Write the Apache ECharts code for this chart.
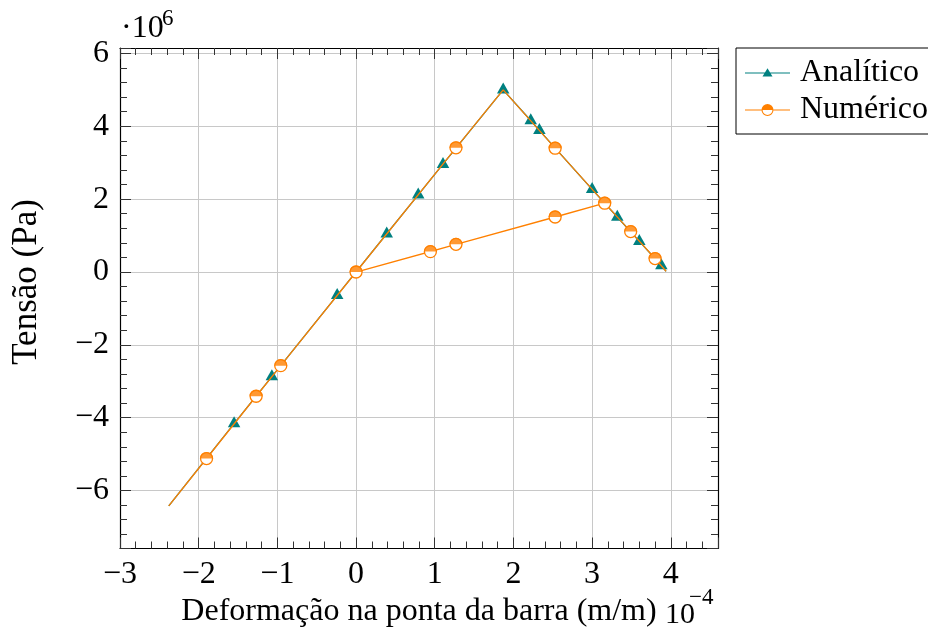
<!DOCTYPE html>
<html><head><meta charset="utf-8">
<script src="https://cdn.jsdelivr.net/npm/echarts@6/dist/echarts.min.js"></script>
<style>html,body{margin:0;padding:0;background:#fff}#c{width:928px;height:627px}</style>
</head><body><div id="c"></div>
<script>
// ---- data (strain in 1e-4 m/m, stress in 1e6 Pa) ----
const anaX = [-2.38, -1.55, -1.07, -0.24, 0.39, 0.79, 1.105, 1.87, 2.22, 2.33, 3.00, 3.32, 3.60, 3.88, 3.94];
const anaY = [-6.42, -4.16, -2.87, -0.64, 1.05, 2.12, 2.96, 5.00, 4.16, 3.89, 2.27, 1.51, 0.84, 0.18, 0.02];
const anaMarked = [0, 1, 1, 1, 1, 1, 1, 1, 1, 1, 1, 1, 1, 1, 0];

const numX = [-2.38, -1.90, -1.27, -0.957, 0, 1.27, 1.87, 2.53, 3.16, 2.53, 1.27, 0.945, 0, 3.16, 3.49, 3.80, 3.94];
const numY = [-6.42, -5.12, -3.41, -2.57, 0, 3.41, 5.00, 3.40, 1.89, 1.51, 0.76, 0.56, 0, 1.89, 1.11, 0.37, 0.02];
const numMarked = [0, 1, 1, 1, 1, 1, 0, 1, 1, 1, 1, 1, 0, 0, 1, 1, 0];

const seriesNames = ['Analítico', 'Numérico'];
const xTitle = 'Deformação na ponta da barra (m/m)';
const yTitle = 'Tensão (Pa)';
const xScaleLabel = ['10', '\u22124'];
const yScaleLabel = ['\u00b710', '6'];

const TEAL = '#008080', ORANGE = '#ff8000';
const FONT = "'Liberation Serif','Times New Roman',serif";
const FS = 32;

function fmtMinus(v) { return v < 0 ? '\u2212' + Math.abs(v) : String(v); }
function majorFmt(step) {
  return function (v) {
    const q = v / step;
    if (Math.abs(q - Math.round(q)) > 1e-6) return '';
    return fmtMinus(Math.round(v * 1000) / 1000);
  };
}

const anaData = anaX.map((x, i) => anaMarked[i] ? [x, anaY[i]] : { value: [x, anaY[i]], symbol: 'none' });
const numData = numX.map((x, i) => numMarked[i] ? [x, numY[i]] : { value: [x, numY[i]], symbol: 'none' });
const numTopData = numX.map((x, i) => [x, numY[i]]).filter((p, i) => numMarked[i]);

const XMIN = -3.0, XMAX = 4.6, YMIN = -7.59, YMAX = 6.15;

function axis(kind, pos, major, opts) {
  const step = kind === 'x' ? (major ? 1 : 0.2) : (major ? 2 : 0.4);
  return Object.assign({
    type: 'value', position: pos,
    min: kind === 'x' ? XMIN : YMIN, max: kind === 'x' ? XMAX : YMAX,
    minInterval: step, maxInterval: step, splitNumber: kind === 'x' ? 8 : 7,
    axisLine: { show: major, onZero: false, lineStyle: { color: '#000', width: 1.2 } },
    axisTick: { show: true, inside: true, length: major ? 11 : 7, lineStyle: { color: '#333', width: 1 } },
    minorTick: { show: false },
    axisLabel: { show: false },
    splitLine: { show: false },
    z: 3
  }, opts || {});
}

const xAxes = [
  axis('x', 'bottom', true, {
    axisLabel: { show: true, margin: 10, color: '#000', fontFamily: FONT, fontSize: FS, formatter: majorFmt(1), showMinLabel: true, showMaxLabel: true },
    splitLine: { show: true, lineStyle: { color: '#c8c8c8', width: 1 } },
    name: xTitle, nameLocation: 'middle', nameGap: 44,
    nameTextStyle: { color: '#000', fontFamily: FONT, fontSize: FS }
  }),
  axis('x', 'bottom', false),
  axis('x', 'top', true),
  axis('x', 'top', false)
];
const yAxes = [
  axis('y', 'left', true, {
    axisLabel: { show: true, margin: 11, color: '#000', fontFamily: FONT, fontSize: FS, formatter: majorFmt(2), showMinLabel: true, showMaxLabel: true },
    splitLine: { show: true, lineStyle: { color: '#c8c8c8', width: 1 } }
  }),
  axis('y', 'left', false),
  axis('y', 'right', true),
  axis('y', 'right', false)
];

const anaIcon = 'path://M0,0 M45,12 M0,5.4 L45,5.4 L45,6.6 L0,6.6 Z M17.5,9.4 L22.5,1.2 L27.5,9.4 Z';
const numIcon = 'path://M0,0 M45,12 M0,5.4 L16.5,5.4 L16.5,6.6 L0,6.6 Z M28.5,5.4 L45,5.4 L45,6.6 L28.5,6.6 Z ' +
  'M16.5,6 A6,6 0 0 1 28.5,6 Z M28.5,6 A6,6 0 0 1 16.5,6 L17.6,6 A4.9,4.9 0 0 0 27.4,6 Z';

const option = {
  animation: false,
  backgroundColor: '#fff',
  grid: { left: 120, top: 48, right: 210, bottom: 78.5, containLabel: false, outerBoundsMode: 'none' },
  xAxis: xAxes,
  yAxis: yAxes,
  legend: {
    left: 736, top: 48, orient: 'vertical',
    padding: [9, 10, 8, 9], itemGap: 5, itemWidth: 45, itemHeight: 12,
    borderColor: '#000', borderWidth: 1, borderRadius: 0, backgroundColor: '#fff',
    textStyle: { color: '#000', fontFamily: FONT, fontSize: FS, padding: [0, 0, 0, 5] },
    data: [
      { name: seriesNames[0], icon: anaIcon, itemStyle: { color: TEAL, borderWidth: 0 } },
      { name: seriesNames[1], icon: numIcon, itemStyle: { color: ORANGE, borderWidth: 0 } }
    ]
  },
  series: [
    {
      name: seriesNames[0], type: 'line', data: anaData, xAxisIndex: 0, yAxisIndex: 0,
      symbol: 'triangle', symbolSize: [12.5, 11], symbolOffset: [0, -1.8], showAllSymbol: true,
      lineStyle: { color: TEAL, width: 1.3 }, itemStyle: { color: TEAL, borderWidth: 0 }, z: 4
    },
    {
      name: seriesNames[1], type: 'line', data: numData, xAxisIndex: 0, yAxisIndex: 0,
      symbol: 'circle', symbolSize: 12, showAllSymbol: true,
      lineStyle: { color: ORANGE, width: 1.3 },
      itemStyle: { color: '#fff', borderColor: ORANGE, borderWidth: 1.3 }, z: 5
    },
    {
      name: 'numTop', type: 'scatter', data: numTopData, xAxisIndex: 0, yAxisIndex: 0,
      symbol: 'path://M-6,0 A6,6 0 0 1 6,0 Z', symbolSize: [13.2, 6.6], symbolOffset: [0, -3.3],
      itemStyle: { color: ORANGE }, z: 6, silent: true
    }
  ],
  graphic: [
    { type: 'text', left: 121, top: 13, style: { text: yScaleLabel[0], font: FS + 'px ' + FONT, fill: '#000' } },
    { type: 'text', left: 162, top: 7, style: { text: yScaleLabel[1], font: '23px ' + FONT, fill: '#000' } },
    { type: 'text', x: 27, y: 282, rotation: Math.PI / 2,
      style: { text: yTitle, font: '35px ' + FONT, fill: '#000', align: 'center', verticalAlign: 'middle' } },
    { type: 'text', left: 665, top: 600, style: { text: xScaleLabel[0], font: '30px ' + FONT, fill: '#000' } },
    { type: 'text', left: 689, top: 586, style: { text: xScaleLabel[1], font: '23px ' + FONT, fill: '#000' } }
  ]
};

const chart = echarts.init(document.getElementById('c'), null, { renderer: 'canvas' });
chart.setOption(option);
</script>
</body></html>
